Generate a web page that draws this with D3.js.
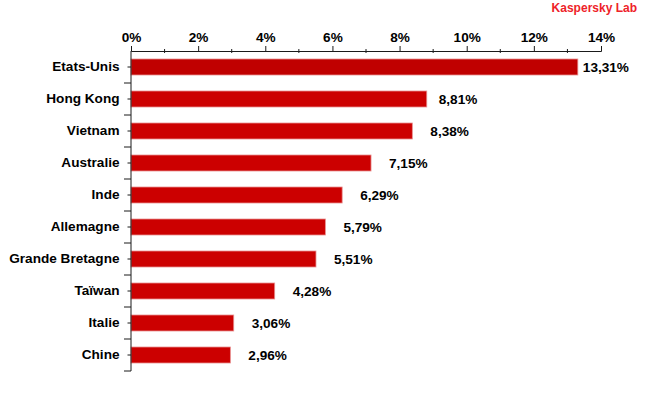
<!DOCTYPE html>
<html>
<head>
<meta charset="utf-8">
<script src="https://cdn.jsdelivr.net/npm/d3@7"></script>
<style>
  html, body { margin: 0; padding: 0; background: #fff; }
  svg { display: block; font-family: "Liberation Sans", Arial, sans-serif; }
</style>
</head>
<body>
<svg id="chart" width="650" height="400"></svg>
<script>
// ---- Data ----
const categories = ["Etats-Unis", "Hong Kong", "Vietnam", "Australie", "Inde",
                    "Allemagne", "Grande Bretagne", "Taïwan", "Italie", "Chine"];
const values = [13.31, 8.81, 8.38, 7.15, 6.29, 5.79, 5.51, 4.28, 3.06, 2.96];
const valueLabels = ["13,31%", "8,81%", "8,38%", "7,15%", "6,29%",
                     "5,79%", "5,51%", "4,28%", "3,06%", "2,96%"];
const xTicks = [0, 2, 4, 6, 8, 10, 12, 14];
const xMinorTicks = [1, 3, 5, 7, 9, 11, 13];
const title = "Kaspersky Lab";

// ---- Layout ----
(function () {
const svg = d3.select("#chart");
const mLeft = 131, mRight = 601, mTop = 51, mBottom = 371;
const axisColor = "#1a1a1a";
const fontSize = "13.6px";
// horizontal gap between bar end and its value label (as placed in the original)
const labelGaps = [5, 12, 18, 18, 18, 18, 18, 18, 18, 18];

const x = d3.scaleLinear().domain([0, 14]).range([mLeft, mRight]);
const y = d3.scaleBand().domain(categories).range([mTop, mBottom])
  .paddingInner(0.5).paddingOuter(0.25);

svg.append("rect").attr("width", 650).attr("height", 400).attr("fill", "#fff");

// Bars
svg.append("g").selectAll("rect")
  .data(categories.map((c, i) => ({c, v: values[i], i})))
  .join("rect")
  .attr("x", x(0))
  .attr("y", d => y(d.c))
  .attr("width", d => x(d.v) - x(0))
  .attr("height", y.bandwidth())
  .attr("fill", d => d.i === 0 ? "#c00000" : "#cc0000")
  .attr("stroke", "#e89090")
  .attr("stroke-width", 0.8);

// Top axis
const xAxis = d3.axisTop(x).tickValues(xTicks).tickSize(5).tickPadding(4)
  .tickFormat(d => d + "%");
const gx = svg.append("g").attr("transform", `translate(0,${mTop})`).call(xAxis);
gx.select(".domain").attr("stroke", axisColor);
gx.selectAll(".tick line").attr("stroke", axisColor);
gx.selectAll(".tick text")
  .attr("font-family", "Liberation Sans, Arial, sans-serif")
  .attr("font-size", fontSize).attr("font-weight", "bold").attr("fill", "#000");

svg.append("g").selectAll("line").data(xMinorTicks).join("line")
  .attr("x1", d => x(d)).attr("x2", d => x(d))
  .attr("y1", mTop - 2).attr("y2", mTop + 2)
  .attr("stroke", axisColor);

// Left axis
const yAxis = d3.axisLeft(y).tickSize(3.5).tickPadding(8);
const gy = svg.append("g").attr("transform", `translate(${mLeft},0)`).call(yAxis);
gy.select(".domain").remove();
gy.selectAll(".tick line").attr("stroke", axisColor);
gy.selectAll(".tick text")
  .attr("font-family", "Liberation Sans, Arial, sans-serif")
  .attr("font-size", fontSize).attr("font-weight", "bold").attr("fill", "#000");

svg.append("line").attr("x1", mLeft).attr("x2", mLeft)
  .attr("y1", mTop).attr("y2", mBottom).attr("stroke", axisColor);

const step = y.step();
const boundaries = d3.range(categories.length + 1).map(i => mTop + i * step);
svg.append("g").selectAll("line").data(boundaries.slice(1)).join("line")
  .attr("x1", mLeft - 7).attr("x2", mLeft)
  .attr("y1", d => d).attr("y2", d => d)
  .attr("stroke", axisColor);

// Value labels
svg.append("g").selectAll("text")
  .data(categories.map((c, i) => ({c, v: values[i], t: valueLabels[i], i})))
  .join("text")
  .attr("x", d => x(d.v) + labelGaps[d.i])
  .attr("y", d => y(d.c) + y.bandwidth() / 2)
  .attr("dy", "0.36em")
  .attr("font-size", fontSize).attr("font-weight", "bold").attr("fill", "#000")
  .text(d => d.t);

// Brand title
svg.append("text").attr("x", 637).attr("y", 11.5)
  .attr("text-anchor", "end")
  .attr("font-size", "12px").attr("font-weight", "bold").attr("fill", "#ee2229")
  .text(title);
})();
</script>
</body>
</html>
